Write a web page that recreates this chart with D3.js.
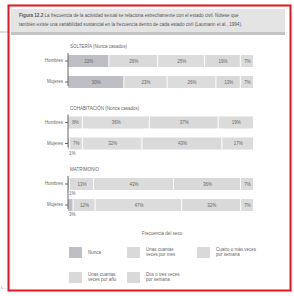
<!DOCTYPE html>
<html><head><meta charset="utf-8">
<script src="https://cdn.jsdelivr.net/npm/d3@7"></script>
<style>body{margin:0;background:#fff}svg{display:block;font-family:"Liberation Sans",Arial,sans-serif}</style>
</head><body>
<svg id="c" width="294" height="296"></svg>
<script>
const categories = ["Nunca","Unas cuantas veces por año","Unas cuantas veces por mes","Dos o tres veces por semana","Cuatro o más veces por semana"];
const groups = ["SOLTERÍA (Nunca casados)","COHABITACIÓN (Nunca casados)","MATRIMONIO"];
const rows = ["Hombres","Mujeres"];
const solteriaHombres = [22,26,25,19,7];
const solteriaMujeres = [30,23,26,13,7];
const cohabHombres = [0,8,36,37,19];
const cohabMujeres = [1,7,32,43,17];
const matrimonioHombres = [1,13,43,36,7];
const matrimonioMujeres = [3,12,47,32,7];
const captionLines = ["La frecuencia de la actividad sexual se relaciona estrechamente con el estado civil. Nótese que",
  "también existe una variabilidad sustancial en la frecuencia dentro de cada estado civil (Laumann et al., 1994)."];
const legendTitle = "Frecuencia del sexo";
const legendLabels = [["Nunca"],["Unas cuantas","veces por año"],["Unas cuantas","veces por mes"],["Dos o tres veces","por semana"],["Cuatro o más veces","por semana"]];

const seriesByGroup = [[solteriaHombres,solteriaMujeres],[cohabHombres,cohabMujeres],[matrimonioHombres,matrimonioMujeres]];
const colors = ["#bebec5","#dadada","#dcdcdc","#d9d9d9","#dbdbdb"];
const svg = d3.select("#c");
const txt = "#666";

// page bits outside frame
svg.append("line").attr("x1",0).attr("x2",8).attr("y1",32).attr("y2",32).attr("stroke","#bbb").attr("stroke-width",1);

// caption box
svg.append("rect").attr("x",11).attr("y",9).attr("width",274).attr("height",24).attr("fill","#e4e4e4");
svg.append("rect").attr("x",11).attr("y",32).attr("width",274).attr("height",3).attr("fill","#c4c4c4");
const cap = svg.append("text").attr("font-size",4.6).attr("fill","#555");
captionLines.forEach((l,i)=>{
  const t = cap.append("tspan").attr("x",19).attr("y",17+i*8.5);
  if(i===0){ t.append("tspan").attr("font-weight","bold").text("Figura 12.2 "); }
  t.append("tspan").text(l);
});

const x = d3.scaleLinear().domain([0,1]).range([68,254]);
const gy = d3.scalePoint().domain(groups).range([48,171]);
const ry = d3.scaleBand().domain(rows).range([7,40]).paddingInner(0.4286).paddingOuter(0);
const stack = d3.stack().keys(d3.range(categories.length)).offset(d3.stackOffsetExpand);

groups.forEach((gname,gi)=>{
  const g = svg.append("g").attr("transform",`translate(0,${gy(gname)})`);
  g.append("text").attr("x",70).attr("y",0).attr("font-size",4.5).attr("fill",txt).text(gname);
  const data = rows.map((r,ri)=>{const o={row:r}; seriesByGroup[gi][ri].forEach((v,k)=>o[k]=v); return o;});
  const st = stack(data);
  st.forEach((layer,k)=>{
    layer.forEach((d,ri)=>{
      const v = seriesByGroup[gi][ri][k];
      if(v===0) return;
      const x0 = x(d[0]), x1 = x(d[1]);
      const y0 = ry(rows[ri]);
      g.append("rect").attr("x",x0).attr("y",y0).attr("width",Math.max(0.8,x1-x0-1)).attr("height",ry.bandwidth()).attr("fill",colors[k]);
      if(v>=5){
        g.append("text").attr("x",(x0+x1)/2).attr("y",y0+ry.bandwidth()/2+1.6).attr("text-anchor","middle").attr("font-size",4.5).attr("fill",txt).text(v+"%");
      } else {
        g.append("text").attr("x",x0+1).attr("y",y0+ry.bandwidth()+5).attr("font-size",4.5).attr("fill",txt).text(v+"%");
      }
    });
  });
  const ax = g.append("g").attr("transform","translate(68,0)").call(d3.axisLeft(ry).tickSize(3).tickPadding(2));
  ax.selectAll("text").attr("font-size",4.5).attr("fill",txt).attr("font-family","Liberation Sans, Arial, sans-serif");
  ax.selectAll("path").attr("stroke","#666").attr("d","M0,5V38");
  ax.selectAll("line").attr("stroke","#666");
});

// legend
svg.append("text").attr("x",162).attr("y",235).attr("text-anchor","middle").attr("font-size",4.5).attr("fill",txt).text(legendTitle);
const legendPos = [[69,247],[69,272],[127,247],[127,272],[197,247]];
const lg = svg.append("g");
categories.forEach((c,i)=>{
  const [lx,ly] = legendPos[i];
  lg.append("rect").attr("x",lx).attr("y",ly).attr("width",13).attr("height",11).attr("fill",i===0?"#bebec5":"#d9d9d9");
  const t = lg.append("text").attr("font-size",4.5).attr("fill",txt);
  const lines = legendLabels[i];
  lines.forEach((l,j)=>{
    t.append("tspan").attr("x",lx+19).attr("y",ly+(lines.length===1?7:3.5+j*5.5)).text(l);
  });
});

// red frame
svg.append("rect").attr("x",8.5).attr("y",5.5).attr("width",282).attr("height",285).attr("fill","none").attr("stroke","#e8141b").attr("stroke-width",2);
svg.append("text").attr("x",1).attr("y",289).attr("font-size",4).attr("fill","#889").text("L..");
</script>
</body></html>
